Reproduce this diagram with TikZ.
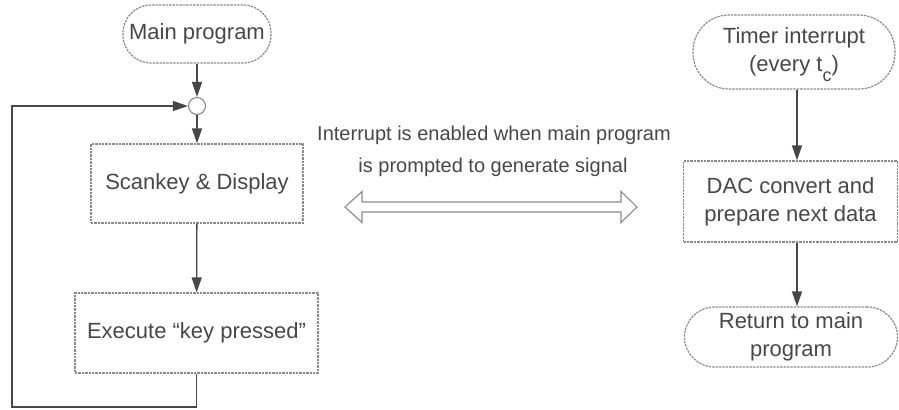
\documentclass[tikz,border=0pt]{standalone}
\usepackage{fontspec}
\setmainfont{Liberation Sans}
\usetikzlibrary{arrows.meta}
\definecolor{ink}{HTML}{474747}
\definecolor{rule}{HTML}{8A8A8A}

\begin{document}
\begin{tikzpicture}[x=0.5pt,y=-0.5pt,
  box/.style={draw=rule, line width=0.6pt, dash pattern=on 1.2pt off 0.5pt, text=ink,
    font=\fontsize{11}{14}\selectfont, align=center, inner sep=0pt},
  term/.style={box, rounded corners=#1},
  flow/.style={draw=ink, line width=0.65pt,
    -{Triangle[length=7.5pt,width=5pt]}},
  note/.style={anchor=base, text=ink, font=\fontsize{10}{12}\selectfont, inner sep=0pt}]
\useasboundingbox (0,0) rectangle (899,409);

% main program loop
\node[term=14pt, minimum width=74pt, minimum height=29pt] (main) at (197,34) {Main program};
\node[circle, draw=rule, line width=0.55pt, fill=white, minimum size=8.5pt, inner sep=0pt] (join) at (197,106) {};
\node[box, minimum width=106pt, minimum height=39.5pt] (scan) at (197,183.5) {Scankey \& Display};
\node[box, minimum width=121.5pt, minimum height=40pt] (exec) at (196.5,333) {Execute “key pressed”};
\coordinate (lb) at (12,407);
\coordinate (lt) at (12,106);

\draw[flow] (main) -- (join);
\draw[flow] (join) -- (scan);
\draw[flow] (scan) -- (exec);
\draw[flow] (exec.south) |- (lb) -- (lt) -- (join.west);

% interrupt service routine
\node[term=18pt, minimum width=101pt, minimum height=37pt] (timer) at (794,52)
  {Timer interrupt\\(every t\smash{\raisebox{-5pt}{\fontsize{9}{9}\selectfont c}})};
\node[box, minimum width=107pt, minimum height=40.5pt] (dac) at (790.5,201.5)
  {DAC convert and\\prepare next data};
\node[term=15pt, minimum width=106.5pt, minimum height=30pt] (ret) at (791,337)
  {Return to main\\program};

\draw[flow] ([xshift=1.5pt]timer.south) -- ([xshift=1.5pt]timer.south |- dac.north);
\draw[flow] ([xshift=3.25pt]dac.south) -- ([xshift=3.25pt]dac.south |- ret.north);

% link between the two routines
\node[note] (note1) at (494,140) {Interrupt is enabled when main program};
\node[note] (note2) at (493,172) {is prompted to generate signal};
\draw[draw=rule, line width=0.55pt, line join=miter]
  (345,207) -- (362,191.5) -- (362,202) -- (621,202) -- (621,191.5) -- (637,207)
  -- (621,222.5) -- (621,212) -- (362,212) -- (362,222.5) -- cycle;
\end{tikzpicture}
\end{document}
